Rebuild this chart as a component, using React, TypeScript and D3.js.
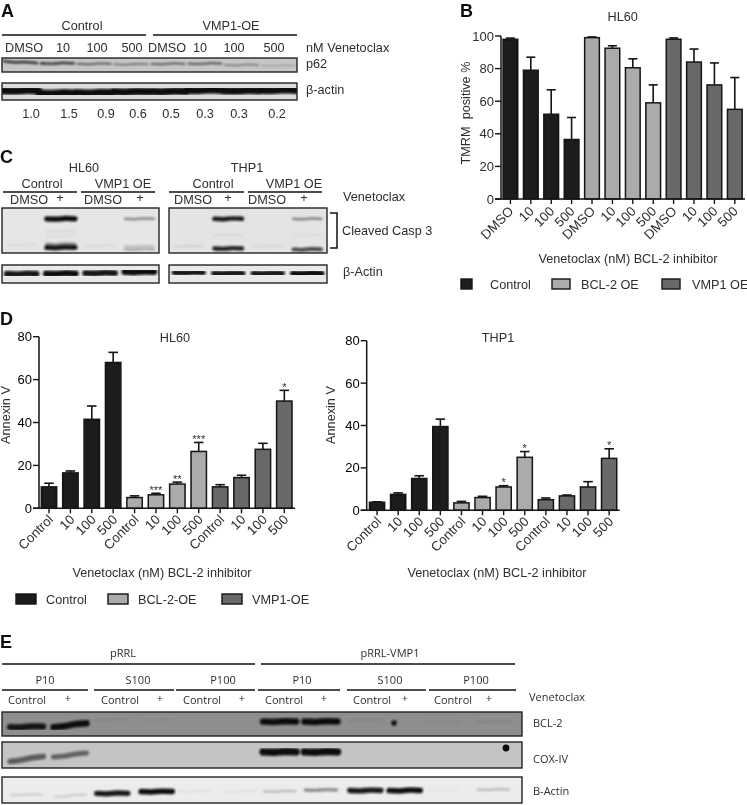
import { scaleBand, scaleLinear, line as d3line, curveCatmullRom } from "d3";

// Panel B, HL60 TMRM
const doseB = ["DMSO", "10", "100", "500"];
const tmrmControl = [98, 79, 52, 36.5];
const tmrmBcl2 = [99, 92.5, 80.5, 59];
const tmrmVmp1 = [98, 84, 70, 55];
const tmrmControlErr = [98.7, 87, 67, 50];
const tmrmBcl2Err = [99.4, 94, 86, 70];
const tmrmVmp1Err = [98.8, 92, 83.5, 74.5];
const legendB = ["Control", "BCL-2 OE", "VMP1 OE"];

// Panel D, Annexin V
const doseD = ["Control", "10", "100", "500"];
const hlControl = [10, 16.5, 41.5, 68];
const hlBcl2 = [5, 6.3, 11.3, 26.5];
const hlVmp1 = [10, 14.3, 27.5, 50];
const hlControlErr = [11.7, 17.4, 47.7, 72.7];
const hlBcl2Err = [5.8, 7, 12.2, 30.7];
const hlVmp1Err = [11, 15.4, 30.3, 55];
const hlStars = ["", "", "", "", "", "***", "**", "***", "", "", "", "*"];
const thpControl = [3.8, 7.5, 15, 39.5];
const thpBcl2 = [3.5, 6, 11, 25];
const thpVmp1 = [5, 6.8, 11, 24.5];
const thpControlErr = [4, 8.2, 16.3, 43];
const thpBcl2Err = [4.2, 6.6, 11.6, 27.7];
const thpVmp1Err = [5.8, 7.2, 13.5, 29];
const thpStars = ["", "", "", "", "", "", "*", "*", "", "", "", "*"];
const legendD = ["Control", "BCL-2-OE", "VMP1-OE"];

// Blot bands: [lane, row 0-1, strength 0-1, tilt]
type Band = [number, number, number, number?];
const p62Bands: Band[] = [[0, 0.3, 0.9, 2], [1, 0.38, 0.85], [2, 0.42, 0.6], [3, 0.45, 0.5], [4, 0.42, 0.6], [5, 0.4, 0.65], [6, 0.5, 0.45], [7, 0.55, 0.25]];
const actinABands: Band[] = [[0, 0.45, 1], [1, 0.6, 1], [2, 0.58, 1], [3, 0.52, 1], [4, 0.5, 1], [5, 0.42, 1], [6, 0.45, 1], [7, 0.42, 1]];
const caspHlBands: Band[] = [[1, 0.24, 1], [3, 0.24, 0.35], [1, 0.8, 0.35], [1, 0.88, 0.95], [3, 0.85, 0.18], [3, 0.92, 0.25], [0, 0.82, 0.06], [2, 0.84, 0.06], [1, 0.52, 0.07], [1, 0.62, 0.06]];
const caspThBands: Band[] = [[1, 0.24, 0.95], [3, 0.24, 0.4], [1, 0.9, 0.9], [3, 0.92, 0.75], [0, 0.85, 0.1], [2, 0.85, 0.07], [1, 0.6, 0.07], [3, 0.6, 0.05]];
const actinHlBands: Band[] = [[0, 0.5, 0.95], [1, 0.48, 1], [2, 0.45, 0.95], [3, 0.38, 1]];
const actinThBands: Band[] = [[0, 0.42, 0.95], [1, 0.47, 0.95], [2, 0.47, 0.95], [3, 0.47, 1]];
const bcl2Bands: Band[] = [[0, 0.62, 0.95, -0.5], [1, 0.55, 1, -4], [2, 0.33, 0.05], [3, 0.35, 0.03], [6, 0.4, 1], [7, 0.4, 1], [8, 0.35, 0.06], [10, 0.42, 0.05], [11, 0.4, 0.07]];
const coxBands: Band[] = [[0, 0.65, 0.6, -5], [1, 0.5, 0.5, -4], [6, 0.38, 1], [7, 0.38, 1]];
const actinEBands: Band[] = [[0, 0.68, 0.12], [1, 0.72, 0.12, -2], [2, 0.63, 0.95], [3, 0.56, 1], [4, 0.55, 0.05], [5, 0.55, 0.05], [6, 0.55, 0.2], [7, 0.5, 0.4], [8, 0.52, 0.95], [9, 0.52, 1], [10, 0.5, 0.03], [11, 0.48, 0.2]];

const GROUP_COLORS = ["#1a1a1a", "#ababab", "#696969"];
const SANS = "'Liberation Sans', Arial, sans-serif";
const SEGOE = "'Open Sans', 'Noto Sans', sans-serif";
const TEXT = "#2e2e2e";
// lanes in panel E are not evenly spaced on the gel
const LANE_SHIFT_E = [3, 3, 2, 3, -2, -1, -4, -6, -5, -9, -14, -7];

function Label({ x, y, children, anchor = "start", size = 12.7, rotate, family = SANS, fill = TEXT, weight }: any) {
  return (
    <text
      transform={`translate(${x},${y})${rotate ? ` rotate(${rotate})` : ""}`}
      textAnchor={anchor}
      fontSize={size}
      fontFamily={family}
      fill={fill}
      fontWeight={weight}
    >
      {children}
    </text>
  );
}

function Blot({ x, y, w, h, lanes, bands, bg, thick = 3, span = 0.85, shift }: any) {
  const lane = scaleBand<number>()
    .domain(Array.from({ length: lanes }, (_, i) => i))
    .range([x, x + w]);
  const row = scaleLinear().domain([0, 1]).range([y, y + h]);
  const bandWidth = scaleLinear().domain([0, 1]).range([thick * 0.35, thick]);
  const path = d3line<[number, number]>().curve(curveCatmullRom);
  const clipId = `blot-${x}-${y}`;
  return (
    <g>
      <clipPath id={clipId}>
        <rect x={x} y={y} width={w} height={h} />
      </clipPath>
      <rect x={x} y={y} width={w} height={h} fill={bg} />
      <g clipPath={`url(#${clipId})`}>
        <g filter="url(#soft)">
          {bands.map(([l, r, s, tilt = 0]: Band, i: number) => {
            const half = (lane.bandwidth() * span) / 2;
            const cx = (lane(l) as number) + lane.bandwidth() / 2 + (shift ? shift[l] : 0);
            const cy = row(r);
            const pts: [number, number][] = [
              [cx - half, cy - tilt / 2],
              [cx - half / 3, cy + 0.4 - tilt / 6],
              [cx + half / 3, cy - 0.4 + tilt / 6],
              [cx + half, cy + tilt / 2],
            ];
            return (
              <path
                key={i}
                d={path(pts) ?? undefined}
                fill="none"
                stroke="#0c0c0c"
                strokeLinecap="round"
                strokeWidth={bandWidth(s)}
                opacity={s}
              />
            );
          })}
        </g>
      </g>
      <rect x={x} y={y} width={w} height={h} fill="none" stroke="#222" strokeWidth={1.4} />
    </g>
  );
}

function BarPanel({
  title, titleX, titleY, categories, groups, errors, stars, domain, ticks,
  axisX, axisTop, axisBottom, rangeStart, rangeEnd, capWidth, yLabel, yLabelX, yLabelY,
  xTitleX, xTitleY, tickDark, tickDx, tickDy,
}: any) {
  const values: number[] = groups.flat();
  const tops: number[] = errors.flat();
  const labels: string[] = groups.flatMap(() => categories);
  const x = scaleBand<number>()
    .domain(values.map((_, i) => i))
    .range([rangeStart, rangeEnd])
    .paddingInner(0.28)
    .paddingOuter(0.14);
  const y = scaleLinear().domain(domain).range([axisBottom, axisTop]);
  const bw = x.bandwidth();
  const ink = "#141414";
  return (
    <g>
      <Label x={titleX} y={titleY} anchor="middle">{title}</Label>
      {values.map((v, i) => {
        const cx = (x(i) as number) + bw / 2;
        const color = GROUP_COLORS[Math.floor(i / categories.length)];
        return (
          <g key={i}>
            <line x1={cx} x2={cx} y1={y(v)} y2={y(tops[i])} stroke={ink} strokeWidth={1.6} />
            <line x1={cx - capWidth / 2} x2={cx + capWidth / 2} y1={y(tops[i])} y2={y(tops[i])} stroke={ink} strokeWidth={1.6} />
            <rect x={x(i)} y={y(v)} width={bw} height={axisBottom - y(v)} fill={color} stroke={ink} strokeWidth={1.5} />
            <line x1={cx} x2={cx} y1={axisBottom} y2={axisBottom + 5} stroke={ink} strokeWidth={1.4} />
            <Label x={cx + tickDx} y={axisBottom + tickDy} anchor="end" rotate={-45} size={13.3}>{labels[i]}</Label>
            {stars && stars[i] ? (
              <Label x={cx} y={y(tops[i]) + 0.5} anchor="middle" size={11}>{stars[i]}</Label>
            ) : null}
          </g>
        );
      })}
      <line x1={axisX} x2={axisX} y1={axisTop} y2={axisBottom} stroke={ink} strokeWidth={1.5} />
      <line x1={axisX - 6} x2={rangeEnd} y1={axisBottom} y2={axisBottom} stroke={ink} strokeWidth={1.5} />
      {y.ticks(ticks).map((t) => (
        <g key={t}>
          <line x1={axisX - 6} x2={axisX} y1={y(t)} y2={y(t)} stroke={ink} strokeWidth={1.4} />
          <Label x={axisX - 7} y={y(t) + 4.5} anchor="end" size={13} fill={tickDark ? "#000" : TEXT}>{t}</Label>
        </g>
      ))}
      <Label x={yLabelX} y={yLabelY} anchor="middle" rotate={-90} size={12.7}>{yLabel}</Label>
      <Label x={xTitleX} y={xTitleY} anchor="middle" size={12.7}>Venetoclax (nM) BCL-2 inhibitor</Label>
    </g>
  );
}

function Legend({ items, swatchX, swatchW, textX, y, h }: any) {
  return (
    <g>
      {items.map((name: string, i: number) => (
        <g key={name}>
          <rect x={swatchX[i]} y={y} width={swatchW[i]} height={h} fill={GROUP_COLORS[i]} stroke="#141414" strokeWidth={1.4} />
          <Label x={textX[i]} y={y + h} size={12.7}>{name}</Label>
        </g>
      ))}
    </g>
  );
}

export default function App() {
  return (
    <svg width={747} height={805} style={{ position: "absolute", left: 0, top: 0, display: "block", background: "#fff" }}>
      <defs>
        <filter id="soft" x="-5%" y="-30%" width="110%" height="160%">
          <feGaussianBlur stdDeviation="0.9" />
        </filter>
        <filter id="scan" x="0" y="0" width="100%" height="100%" filterUnits="userSpaceOnUse" primitiveUnits="userSpaceOnUse">
          <feGaussianBlur stdDeviation="0.35" />
        </filter>
      </defs>
      <rect x={0} y={0} width={747} height={805} fill="#fff" />

      <g filter="url(#scan)">
        {/* A */}
        <Label x={1} y={16.5} size={18} weight="bold" fill="#111">A</Label>
        <Label x={82} y={30} anchor="middle">Control</Label>
        <Label x={231} y={30} anchor="middle">VMP1-OE</Label>
        <line x1={2} x2={146} y1={35} y2={35} stroke="#111" strokeWidth={1.5} />
        <line x1={153} x2={297} y1={35} y2={35} stroke="#111" strokeWidth={1.5} />
        {["DMSO", "10", "100", "500", "DMSO", "10", "100", "500"].map((t, i) => (
          <Label key={i} x={[24, 63, 97, 132, 167, 200, 234, 274][i]} y={52} anchor="middle">{t}</Label>
        ))}
        <Label x={306} y={52}>nM Venetoclax</Label>
        <Blot x={2} y={58} w={295} h={14} lanes={8} bands={p62Bands} bg="#c6c6c6" thick={2.4} span={0.9} />
        <Label x={306} y={68}>p62</Label>
        <Blot x={2} y={83} w={295} h={17} lanes={8} bands={actinABands} bg="#dcdcdc" thick={7.5} span={0.98} />
        <Label x={306} y={94}>β-actin</Label>
        {["1.0", "1.5", "0.9", "0.6", "0.5", "0.3", "0.3", "0.2"].map((t, i) => (
          <Label key={i} x={[31, 69, 106, 138, 171, 205, 239, 277][i]} y={118} anchor="middle">{t}</Label>
        ))}

        {/* C */}
        <Label x={0} y={163} size={18} weight="bold" fill="#111">C</Label>
        <Label x={84} y={172} anchor="middle">HL60</Label>
        <Label x={247} y={172} anchor="middle">THP1</Label>
        {[["Control", 42], ["VMP1 OE", 123], ["Control", 213], ["VMP1 OE", 294]].map(([t, x], i) => (
          <Label key={i} x={x} y={188} anchor="middle">{t}</Label>
        ))}
        {[[3, 77], [81, 155], [169, 244], [248, 322]].map(([a, b], i) => (
          <line key={i} x1={a} x2={b} y1={192} y2={192} stroke="#111" strokeWidth={1.4} />
        ))}
        {[["DMSO", 29], ["+", 60], ["DMSO", 103], ["+", 140], ["DMSO", 193], ["+", 228], ["DMSO", 267], ["+", 304]].map(([t, x], i) => (
          <Label key={i} x={x} y={t === "+" ? 202 : 204} anchor="middle">{t}</Label>
        ))}
        <Label x={343} y={201}>Venetoclax</Label>
        <Blot x={2} y={208} w={157} h={45} lanes={4} bands={caspHlBands} bg="#e6e6e6" thick={5.2} span={0.72} />
        <Blot x={169} y={208} w={158} h={45} lanes={4} bands={caspThBands} bg="#e4e4e4" thick={4.6} span={0.7} />
        <path d="M330,213 H337 V248 H330" fill="none" stroke="#111" strokeWidth={1.5} />
        <Label x={342} y={235}>Cleaved Casp 3</Label>
        <Blot x={2} y={265} w={157} h={18} lanes={4} bands={actinHlBands} bg="#e9e9e9" thick={6.5} span={0.75} />
        <Blot x={169} y={265} w={158} h={18} lanes={4} bands={actinThBands} bg="#e9e9e9" thick={6} span={0.72} />
        <Label x={343} y={276}>β-Actin</Label>

        {/* B */}
        <Label x={460} y={16.5} size={18} weight="bold" fill="#111">B</Label>
        <BarPanel
          title="HL60" titleX={622.7} titleY={21}
          categories={doseB}
          groups={[tmrmControl, tmrmBcl2, tmrmVmp1]}
          errors={[tmrmControlErr, tmrmBcl2Err, tmrmVmp1Err]}
          domain={[0, 100]} ticks={5}
          axisX={501} axisTop={36} axisBottom={199}
          rangeStart={500.2} rangeEnd={745} capWidth={9}
          yLabel={"TMRM\u00a0\u00a0positive %"} yLabelX={470} yLabelY={113}
          xTitleX={628} xTitleY={263} tickDx={4} tickDy={13}
        />
        <Legend items={legendB} swatchX={[461, 552, 662]} swatchW={[11, 18, 18]} textX={[490, 581, 692]} y={279} h={10} />

        {/* D */}
        <Label x={0} y={325} size={18} weight="bold" fill="#111">D</Label>
        <BarPanel
          title="HL60" titleX={175} titleY={342}
          categories={doseD}
          groups={[hlControl, hlBcl2, hlVmp1]}
          errors={[hlControlErr, hlBcl2Err, hlVmp1Err]}
          stars={hlStars}
          domain={[0, 80]} ticks={4}
          axisX={39} axisTop={336.7} axisBottom={508.3}
          rangeStart={38.3} rangeEnd={295} capWidth={9.5} tickDark
          yLabel="Annexin V" yLabelX={10} yLabelY={415}
          xTitleX={162} xTitleY={577} tickDx={5} tickDy={12}
        />
        <BarPanel
          title="THP1" titleX={498} titleY={342}
          categories={doseD}
          groups={[thpControl, thpBcl2, thpVmp1]}
          errors={[thpControlErr, thpBcl2Err, thpVmp1Err]}
          stars={thpStars}
          domain={[0, 80]} ticks={4}
          axisX={366.7} axisTop={340.7} axisBottom={510.3}
          rangeStart={366.5} rangeEnd={619.7} capWidth={9.5} tickDark
          yLabel="Annexin V" yLabelX={335} yLabelY={415}
          xTitleX={497} xTitleY={577} tickDx={5} tickDy={12}
        />
        <Legend items={legendD} swatchX={[16, 108, 222]} swatchW={[20, 20, 20]} textX={[46, 138, 252]} y={594} h={10} />

        {/* E */}
        <Label x={0} y={648} size={18} weight="bold" fill="#111">E</Label>
        <Label x={123} y={657} anchor="middle" size={11} family={SEGOE}>pRRL</Label>
        <Label x={390} y={657} anchor="middle" size={11} family={SEGOE}>pRRL-VMP1</Label>
        <line x1={2} x2={255} y1={664} y2={664} stroke="#111" strokeWidth={1.6} />
        <line x1={261} x2={515} y1={664} y2={664} stroke="#111" strokeWidth={1.6} />
        {[["P10", 45], ["S100", 138], ["P100", 223], ["P10", 302], ["S100", 390], ["P100", 476]].map(([t, x], i) => (
          <Label key={i} x={x} y={684} anchor="middle" size={11} family={SEGOE}>{t}</Label>
        ))}
        {[[2, 88], [94, 174], [176, 255], [258, 340], [347, 426], [429, 516]].map(([a, b], i) => (
          <line key={i} x1={a} x2={b} y1={690} y2={690} stroke="#111" strokeWidth={1.4} />
        ))}
        {[["Control", 27], ["+", 68], ["Control", 120], ["+", 160], ["Control", 202], ["+", 242], ["Control", 284], ["+", 324], ["Control", 372], ["+", 405], ["Control", 453], ["+", 489]].map(([t, x], i) => (
          <Label key={i} x={x} y={t === "+" ? 702 : 704} anchor="middle" size={11} family={SEGOE}>{t}</Label>
        ))}
        <Label x={529} y={701} size={11} family={SEGOE}>Venetoclax</Label>
        <Blot x={2} y={712} w={520} h={24} lanes={12} bands={bcl2Bands} bg="#8e8e8e" thick={6.5} span={0.76} shift={LANE_SHIFT_E} />
        <circle cx={394} cy={723} r={2.8} fill="#111" filter="url(#soft)" />
        <Blot x={2} y={742} w={520} h={26} lanes={12} bands={coxBands} bg="#c4c4c4" thick={7.5} span={0.76} shift={LANE_SHIFT_E} />
        <circle cx={506} cy={748} r={3.4} fill="#0c0c0c" />
        <Blot x={2} y={777} w={520} h={26} lanes={12} bands={actinEBands} bg="#ececec" thick={5.5} span={0.72} shift={LANE_SHIFT_E} />
        <Label x={533} y={727} size={11} family={SEGOE}>BCL-2</Label>
        <Label x={533} y={763} size={11} family={SEGOE}>COX-IV</Label>
        <Label x={533} y={795} size={11} family={SEGOE}>B-Actin</Label>
      </g>
    </svg>
  );
}
